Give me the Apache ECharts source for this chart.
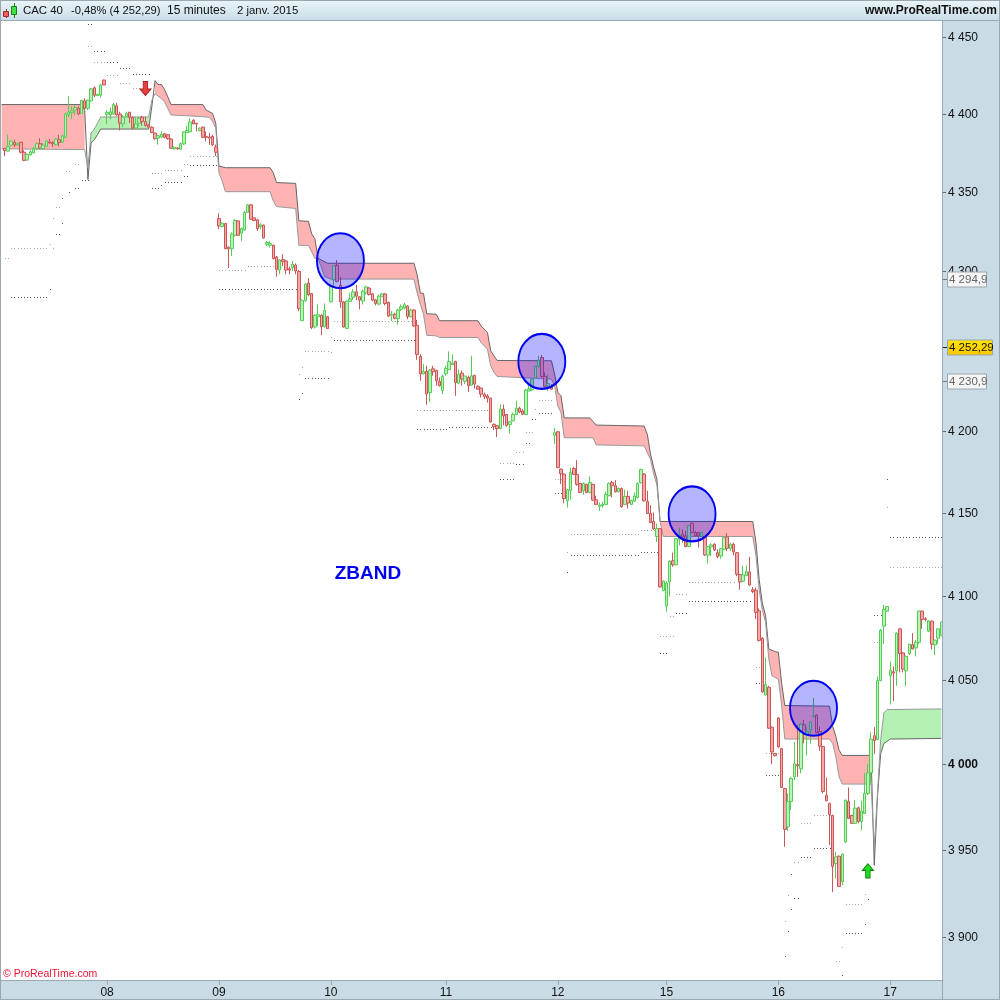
<!DOCTYPE html>
<html>
<head>
<meta charset="utf-8">
<style>html,body{margin:0;padding:0;background:#fff}#c{width:1000px;height:1000px}</style>
<script src="https://cdn.jsdelivr.net/npm/echarts@6/dist/echarts.min.js"></script>
</head>
<body>
<div id="c"></div>
<script>
// each candle: [open, close, low, high]
const session07 = [
[4377.8,4376.5,4372.9,4378.2],[4376.1,4379,4376.1,4386.7],[4379.9,4382.6,4379.3,4383.5],[4381.8,4380.1,4378.8,4383.5],[4380.1,4380.9,4379.3,4381.8],[4381.8,4375.4,4374.6,4381.8],[4375.4,4370.2,4369.7,4376.7],[4370.4,4374,4370.2,4374.6],[4373.7,4375.7,4373.3,4376.7],[4375,4377.8,4374.6,4378.8],
[4377.8,4380.9,4377.1,4381.8],[4380.9,4378,4377.6,4384.5],[4377.8,4379.9,4377.1,4381.4],[4379.3,4382.6,4378.8,4383.5],[4382,4381.4,4380.9,4383.9],[4381.8,4380.9,4378.8,4382.4],[4380.3,4383.9,4379.7,4384.5],[4383.5,4381.8,4379.3,4386.7],[4381.8,4386,4381.4,4386.7],[4385,4400,4384.5,4400.8],
[4399.6,4401.3,4397.9,4411.4],[4400.8,4402.1,4396.6,4405.1],[4402.5,4404.2,4399.4,4405.7],[4403.8,4400,4399.4,4405.1],[4400.4,4408.7,4400,4409.3],[4408.5,4403.6,4403.6,4410],[4403.6,4408.9,4402.5,4409.3],[4408.5,4416.3,4408,4416.9],[4416.9,4412.1,4411,4417.8],[4411.9,4412.7,4411.5,4413.1],
[4412.1,4418.8,4410.6,4419.5],[4422,4418.8,4418.6,4422.2]
];
const session08 = [
[4399.8,4401.1,4393.6,4402.5],[4399.4,4401.5,4396.6,4404.2],[4400,4406.1,4399.4,4407.2],[4405.3,4399.4,4398.9,4407.2],[4400,4394.1,4389.4,4401.5],[4393.6,4397.9,4391.5,4399.4],[4398.3,4400.4,4397.9,4401.5],[4401.1,4397.9,4394.1,4401.5],[4397.9,4390.9,4390.3,4398.3],[4390.9,4393.6,4390.3,4397.9],
[4394.1,4397.2,4392,4398.3],[4397.9,4395.1,4392.4,4398.9],[4395.1,4392.6,4392,4398.3],[4393,4391.5,4391.1,4393.6],[4391.5,4388.1,4387.7,4392],[4387.7,4384.1,4383.5,4388.1],[4384.5,4386,4380.3,4386.7],[4385.2,4387.1,4384.5,4388.8],[4387.3,4385,4384.3,4387.7],[4386.7,4384.1,4383.5,4386.9],
[4383.9,4378,4377.6,4384.3],[4377.6,4378.6,4377.1,4379.3],[4378.2,4377.6,4377.1,4378.4],[4377.3,4380.9,4377.1,4381.8],[4380.7,4388.4,4380.1,4388.8],[4388.1,4389.4,4387.7,4392.4],[4388.6,4394.9,4388.1,4397.2],[4396,4393.6,4393.6,4396.6],[4394.1,4393.6,4388.8,4394.1],[4389.4,4390.9,4388.8,4391.5],
[4391.5,4385,4384.5,4392],[4385.6,4385,4382.4,4388.8],[4385.2,4384.5,4380.3,4387.7],[4385.6,4380.3,4379.3,4386.7],[4378.8,4375.4,4372.9,4380.3]
];
const session09 = [
[4333.1,4328.4,4326.3,4336.5],[4328,4330.1,4327.6,4330.6],[4329.9,4314,4313.6,4330.4],[4314.9,4314,4301.8,4315.3],[4314,4323.2,4309.4,4324.2],[4322.5,4331.8,4321.7,4332.7],[4331.6,4322.5,4322.1,4332],[4323.8,4326.8,4318.9,4327.4],[4325.9,4336.9,4325.3,4338],[4336.9,4341.8,4336.9,4342.2],
[4341.8,4332.7,4332.3,4342.2],[4333.5,4331.8,4331.4,4333.9],[4332.3,4326.8,4325.3,4332.7],[4328,4329.1,4326.3,4330.1],[4328.9,4320.8,4320.4,4329.3],[4316.8,4317.9,4315.7,4318.9],[4316.2,4317.2,4314.7,4318.9],[4316.2,4307.7,4307.3,4316.6],[4308.8,4300.9,4296.3,4309.4],[4300.5,4306.9,4297.8,4307.3],
[4307.1,4305.8,4303,4310.5],[4306.2,4300.5,4297.8,4306.9],[4301.3,4300.5,4297.8,4302.6],[4302,4304.1,4299.9,4306.2],[4303.7,4299.9,4297.8,4304.7],[4299.6,4276.2,4274.7,4300.6],[4268.7,4281.4,4268.5,4282],[4281.2,4291.7,4280.7,4292.3],[4292.3,4285.1,4284.1,4295.4],[4285.7,4264.4,4263.4,4286.1],
[4264.8,4272.1,4263.8,4272.7],[4271.2,4272.5,4265.4,4278.9],[4272.1,4265,4259.8,4272.7],[4265,4275.2,4264.4,4279.5],[4271.2,4263.8,4263.6,4271.6]
];
const session10 = [
[4280.5,4290.3,4280.3,4291.3],[4294.4,4303.3,4289.2,4303.7],[4303.5,4293.4,4292.8,4306.8],[4290.9,4280.5,4276.8,4296.1],[4280.5,4264.8,4264.4,4281],[4263.8,4281,4263.6,4281.4],[4280.8,4282.4,4280.8,4286.1],[4283.4,4286.8,4281.6,4288.6],[4286.8,4284.1,4281.6,4291.3],[4283.7,4281.6,4275.8,4284.1],
[4281,4287.2,4278.9,4288.2],[4286.1,4289.9,4285.1,4290.7],[4289.2,4285.1,4284.5,4289.9],[4285.5,4281.6,4281,4286.1],[4281.8,4279.5,4278.3,4282.4],[4279.1,4284.1,4278.3,4285.1],[4283.7,4285.5,4283.7,4286.1],[4285.5,4279.5,4278.3,4286.1],[4280.1,4271.6,4271.2,4280.7],[4272.1,4272.7,4268.5,4274.7],
[4272.7,4270.2,4269.6,4273.7],[4270,4275.4,4266.3,4276.2],[4275.8,4277.4,4274.7,4278.9],[4276.6,4278.7,4275.8,4279.9],[4277.9,4271.2,4269.6,4278.3],[4271.2,4275.4,4270.8,4276.2],[4275.4,4265.4,4265,4275.8],[4265.8,4247.6,4244.3,4269.2],[4246.4,4235.6,4231.3,4247.8],[4235.6,4237.1,4235.2,4241.6],
[4237.1,4223.2,4216.4,4240.6],[4224,4237.9,4218.2,4238.5],[4238.7,4236.9,4234.4,4240.6],[4237.7,4231.3,4228.2,4238.1],[4230.9,4228.2,4227.8,4233.3],[4225.3,4234,4223,4235]
];
const session11 = [
[4235.6,4238.9,4234.4,4240.6],[4238.3,4243.3,4237.9,4249.5],[4241.4,4242.2,4241,4247.8],[4243.3,4230.2,4222,4243.7],[4229.8,4235.4,4229.2,4238.1],[4236,4232.3,4228.2,4237.7],[4230.9,4234.2,4229.2,4234.4],[4233.3,4228.2,4224.4,4234.4],[4228.6,4234.4,4228.2,4246.8],[4234.6,4229.2,4226.5,4235],
[4227.8,4226.1,4225.7,4228.6],[4226.7,4223,4220.9,4227.1],[4223,4221.5,4219.9,4224],[4221.8,4220.5,4217.8,4223],[4220.5,4205.8,4205.4,4220.9],[4204.4,4202.9,4200.8,4204.8],[4203.5,4201.7,4196.5,4203.9],[4201.7,4213.7,4201.3,4216.8],[4213.7,4209.5,4203.7,4216.6],[4210.4,4203.7,4202.9,4210.8],
[4204.2,4206,4198.8,4206.4],[4206.6,4210.4,4206.2,4211.6],[4210.4,4214.3,4210,4218.9],[4214.3,4212,4211.2,4215.3],[4212.6,4210.6,4210,4213.7],[4210.4,4225.5,4210,4226.1],[4224.9,4226.1,4224.9,4230.2],[4225.7,4232.3,4225.1,4232.7],[4232.9,4240.2,4232.7,4240.6],[4240.2,4244.1,4239.6,4246.8],
[4245.8,4234,4233.3,4247.2],[4234,4227.8,4227.1,4236.5],[4228.2,4229.6,4225.1,4235.4],[4227.8,4226.1,4225.7,4229.2]
];
const session12 = [
[4197.6,4199.2,4192.1,4202.2],[4199.8,4177.8,4177.4,4200.2],[4176.8,4174,4167.7,4177.2],[4173.8,4158.9,4156.1,4174.2],[4157.5,4164.2,4153.4,4164.6],[4163.8,4174.8,4158.1,4177.8],[4177.2,4173.6,4173.2,4178.2],[4173.6,4167.5,4166.7,4182.3],[4168.1,4162.6,4162.2,4168.3],[4163.6,4168.1,4161.2,4168.7],
[4167.5,4162.6,4162.2,4167.9],[4162.6,4168.7,4162.2,4172.4],[4167.5,4157.9,4157.5,4167.9],[4158.1,4155.3,4154.9,4160.6],[4154.1,4154.9,4151.4,4156.5],[4154.5,4155.3,4153.4,4156.9],[4155.3,4161.4,4154.9,4163],[4160.6,4168.1,4160.2,4168.7],[4168.7,4166.7,4159.5,4169.7],[4166.7,4163,4162.6,4170.1],
[4163,4165,4162.6,4165.6],[4165,4153.9,4153.2,4165.6],[4155.3,4160.2,4154.9,4164.2],[4160.2,4156.1,4152.8,4163.6],[4155.3,4157.7,4154.9,4158.1],[4157.3,4160.4,4156.9,4162.6],[4159.5,4168.1,4158.9,4168.7],[4168.5,4176.6,4168.1,4177.2],[4173.8,4157.5,4156.9,4174.4],[4157.1,4149.8,4149.4,4163.6],
[4149.8,4144.3,4143.9,4154.9],[4144.9,4140.4,4139.8,4150.4],[4135.8,4140.6,4132.5,4143.7],[4140.6,4105.3,4105.1,4140.8],[4103.2,4108.9,4102.8,4109.3]
];
const session15 = [
[4093.9,4107.7,4090.4,4108.7],[4108.3,4120.9,4099.6,4121.3],[4121.1,4118.7,4117.5,4126],[4118.7,4134.5,4118.3,4134.9],[4134.1,4136.6,4130.5,4141.2],[4137,4135.4,4132.1,4140.2],[4136.2,4129.7,4129.3,4139.2],[4129.7,4142.3,4129.3,4142.7],[4143.7,4138.2,4137.8,4144.3],[4138.2,4136.2,4135.8,4139.2],
[4138.2,4136.2,4129.1,4138.6],[4135.8,4138.2,4135.4,4138.6],[4135.8,4124.6,4124,4136.2],[4124.6,4129.7,4119.5,4130.1],[4129.5,4130.7,4124,4131.7],[4131.1,4127.6,4127,4131.7],[4126,4123.6,4122.7,4128],[4124,4128.4,4122.3,4128.8],[4128,4135.1,4127.6,4135.8],[4135.6,4128.6,4127,4137.8],
[4128.6,4131.1,4127,4132.1],[4131.1,4126.4,4124.4,4132.1],[4126,4113,4111.8,4126.4],[4112.8,4108.3,4103.6,4113.2],[4108.7,4112.6,4108.3,4118.3],[4112.2,4114.6,4111.8,4118.3],[4114.4,4106.5,4106.1,4123.4],[4103.6,4102.6,4101.6,4105.3],[4103.4,4090,4085.9,4104.9],[4091,4073.3,4072.7,4092.4],
[4074.6,4042.6,4042.2,4075.2],[4040.8,4047,4040.6,4063.2],[4045.4,4021.2,4020.8,4046.2],[4021.8,4007.2,4000,4022.2],[4006.4,4005,4004.6,4006.6]
];
const session16 = [
[4027.2,4010.2,4009.8,4027.6],[4009.2,3986.4,3986,4009.6],[3985.8,3962,3951.9,3986.2],[3963.5,3978.3,3961.2,3982.9],[3978.3,3991.7,3973.2,3992.6],[3992.6,4000.2,3990.7,4013.2],[3999.8,3999,3992.6,4023.2],[3997.3,4023.6,3994.6,4024.2],[4023.2,4018.2,4012.2,4026.2],[4017.2,4019.2,4005.2,4022.2],
[4020.2,4024.8,4012.2,4025.2],[4027.8,4028.6,4027.8,4039.2],[4029,4018.6,4018.2,4029.4],[4019.2,4010.6,4007.8,4022.2],[4010.4,3984.1,3982.9,4010.8],[3981.8,3978.7,3978.3,3992.2],[3977.1,3970.7,3952.9,3977.5],[3970.1,3940.6,3925.7,3970.5],[3942.2,3946.1,3933.5,3949],[3946.5,3929,3928.6,3946.8],
[3931.7,3947.6,3929.6,3948],[3954.8,3979,3954.2,3979.4],[3978.3,3968.4,3968,3986.4],[3970.1,3965.5,3965.1,3970.5],[3965.5,3974.4,3965.1,3979],[3974.6,3966.6,3965.5,3975.2],[3966.6,3972.6,3961.6,3978.7],[3971.3,3982.9,3970.9,3995],[3982.9,3995,3982,4000.4],[3995,4014.8,3988.7,4018.8],
[4016.8,4014,4006.2,4021.8],[4014.6,4049.4,4014,4051.8],[4049.4,4079.4,4049,4080.2],[4081.8,4091.8,4071.2,4094.6],[4090.8,4093.6,4090.6,4093.8]
];
const session17 = [
[4052.2,4055.4,4035.2,4060.8],[4054.6,4053.8,4037.2,4057.8],[4055.2,4077.6,4046.2,4078.2],[4080.2,4065.4,4054.2,4080.6],[4065.8,4056.2,4054.2,4066.2],[4055.2,4063.8,4046.2,4064.2],[4065.4,4071,4064.6,4071.2],[4070.8,4068.2,4067.8,4077.6],[4068.8,4072.2,4063.8,4073.6],[4072.2,4090.8,4071.2,4091.2],
[4090.8,4085.8,4080.2,4091.2],[4086.2,4085.8,4084.6,4087.2],[4078.8,4085,4078.2,4085.2],[4084.8,4071,4067.8,4085.2],[4070.6,4073.4,4064.6,4073.8],[4074.6,4080.2,4071.2,4080.6],[4076.2,4084.2,4075.8,4084.6]
];

// band edges: [bar, price]
const spanA = [[0,4406.1],[25,4406.1],[26,4402.5],[27,4358],[28,4381.4],[29,4383.5],[30,4386.7],[31,4390.3],[46,4390.3],[47,4404.7],[48,4421.6],[49,4419],[50,4419],[51,4415.7],[52,4411],[53,4406.1],[63,4406.1],[64,4402.5],[66,4400.4],[67,4394],[68,4366.6],[70,4365.5],[84,4365.5],[85,4362.3],[86,4356],[92,4355.5],[93,4331.7],[96,4331.3],[97,4323.4],[98,4320.3],[99,4307.9],[102,4304.8],[129,4304.8],[130,4297.5],[131,4286.1],[132,4285.7],[133,4273.1],[136,4272.7],[137,4268.7],[149,4268.7],[150,4265.4],[152,4261.3],[153,4249.9],[155,4243.9],[172,4243.7],[173,4235.4],[174,4224],[175,4222],[176,4208.3],[184,4208.3],[186,4203.9],[201,4203.3],[202,4198.2],[203,4186],[204,4177.8],[205,4170.7],[206,4144.9],[235,4144.9],[236,4132.1],[237,4109.7],[238,4095.2],[239,4088.2],[240,4068.2],[242,4066.6],[243,4066.2],[244,4048.2],[245,4034.6],[259,4034.2],[260,4022.2],[261,4016.2],[262,4008.2],[263,4005.2],[272,4005.2],[273,3941.2],[274,3981],[275,4006.2],[276,4012.2],[278,4014.8],[294,4015.2]];
const spanB = [[0,4377.6],[26,4377.1],[27,4365.5],[28,4387.7],[29,4390.3],[30,4394.1],[31,4398.1],[46,4398.1],[47,4408.9],[48,4413.1],[50,4409.9],[51,4407.8],[52,4403.6],[53,4399.4],[63,4398.3],[65,4397.9],[66,4395.1],[67,4390.9],[68,4362.3],[69,4357],[70,4350.2],[84,4350.2],[85,4344.3],[86,4340.7],[92,4339.5],[93,4316.1],[96,4316.1],[97,4312],[98,4307.9],[99,4307.5],[100,4302.7],[101,4296.5],[103,4294.8],[129,4294.8],[130,4286.1],[131,4278.9],[132,4272.7],[133,4259.6],[136,4259.2],[137,4258.2],[149,4258.2],[150,4255.1],[152,4250.9],[153,4240.6],[154,4236.5],[155,4234],[172,4232.3],[173,4228.2],[174,4215.7],[175,4211.6],[176,4196.1],[185,4196.1],[186,4191.7],[201,4191.1],[203,4182.9],[204,4173.8],[205,4167.1],[206,4144.9],[207,4135.8],[235,4135.8],[236,4124],[237,4103.6],[238,4091.2],[239,4084.2],[240,4062.2],[241,4052.2],[243,4050.2],[244,4035.2],[245,4014.8],[259,4014.8],[260,4012.2],[261,4004.2],[262,3992.6],[263,3988.4],[272,3988.4],[273,3951.9],[274,3982.9],[275,4014.4],[276,4030.2],[277,4032.2],[294,4032.6]];
// [first bar, last bar, 0 pink / 1 green]
const bandRegions = [[0,26,0],[27,47,1],[48,272,0],[273,294,1]];
const bandColors = ['#ffb3b3','#b4f0b4'];

// dotted levels: [first bar, last bar, price]
const darkLevels = [[27,28,4458.4],[29,32,4441.1],[33,36,4433.7],[37,40,4429.6],[41,46,4425.8],[3,14,4283.8],[15,15,4288.6],[25,27,4357.9],[24,24,4367.6],[19,19,4346.4],[21,21,4350],[23,24,4352.8],[17,18,4323.2],[19,19,4330.1],[47,49,4352.8],[50,50,4354.3],[51,56,4356.6],[57,58,4360.2],[59,67,4367],[68,92,4288.6],[95,102,4233.3],[93,93,4219.9],[94,94,4223.6],[104,129,4256.9],[130,139,4201.3],[140,153,4202.9],[168,172,4211.6],[164,165,4192.6],[166,167,4207.5],[161,163,4179.9],[156,160,4170.8],[173,175,4162],[178,199,4124.8],[177,177,4114.4],[200,205,4126.6],[215,234,4096.7],[211,214,4089.4],[206,208,4065.6],[273,275,4088.6],[236,238,4048.2],[239,243,3993.6],[254,259,3951.4],[250,253,3946.1],[247,247,3936.4],[277,277,4170.7],[278,294,4135.4],[248,249,3922.1],[247,247,3916.3],[246,246,3903.7],[245,245,3889.2],[264,269,3902.5],[270,270,3907.7],[271,271,3921.5],[263,263,3878.3]];
const lightLevels = [[27,28,4444.2],[29,32,4433.7],[33,36,4425.4],[37,40,4420.1],[41,43,4416.9],[3,14,4314.3],[15,15,4317.2],[16,16,4314.3],[1,2,4308.3],[16,16,4333.7],[17,18,4340.7],[20,21,4363.4],[23,24,4367.6],[47,50,4362.3],[51,56,4363.8],[57,58,4368.2],[59,67,4373.3],[68,76,4300.7],[77,86,4303],[95,102,4249.5],[103,103,4249],[103,103,4258.8],[104,129,4268.7],[93,93,4235.4],[94,94,4239.6],[130,152,4213.5],[168,172,4219.1],[167,167,4214.1],[164,166,4199.8],[161,163,4187.4],[156,160,4180.6],[173,175,4170.7],[178,199,4137.6],[177,177,4126.6],[200,205,4140],[215,229,4108.3],[211,214,4101],[209,210,4087.8],[206,210,4075.8],[236,238,4057.3],[273,274,4072.2],[239,243,4006.8],[254,259,3970.3],[250,253,3966],[248,249,3943.2],[277,277,4153.6],[278,294,4117.2],[246,246,3923.8],[245,245,3909.4],[264,269,3918.7],[270,270,3924.4],[263,263,3894.4],[261,262,3886.3]];

// annotations
const circlePoints = [[106,4306.4],[169,4243.3],[216,4149.5],[254,4033]];
const sellSignal = [[45,4416.5]];
const buySignal = [[271,3938]];

// axes
const dayTicks = [33,68,103,139,174,208,243,278];
const dayLabels = ['08','09','10','11','12','15','16','17'];
const priceTicks = [4450,4400,4350,4300,4200,4150,4100,4050,4000,3950,3900];
const priceLabels = ['4 450','4 400','4 350','4 300','4 200','4 150','4 100','4 050','4 000','3 950','3 900'];
const tagValues = [4294.9,4252.29,4230.9];
const tagLabels = ['4 294,9','4 252,29','4 230,9'];

const candles = ['-'].concat(session07,session08,session09,session10,session11,session12,session15,session16,session17);
const categories = candles.map((_, i) => { const k = dayTicks.indexOf(i); return k >= 0 ? dayLabels[k] : ''; });
const FONT = '"Liberation Sans", Arial, sans-serif';

function inRange(pts, a, b) { return pts.filter(p => p[0] >= a && p[0] <= b); }
function renderBand(params, api) {
  const r = bandRegions[params.dataIndex];
  const up = inRange(spanA, r[0], r[1]).map(p => api.coord(p));
  const low = inRange(spanB, r[0], r[1]).map(p => api.coord(p)).reverse();
  return { type: 'polygon', shape: { points: up.concat(low) }, style: { fill: bandColors[r[2]] } };
}
function renderLevels(color) {
  return function (params, api) {
    const children = [];
    for (let i = api.value(0); i <= api.value(1); i++) {
      const c = api.coord([i, api.value(2)]);
      children.push({ type: 'rect', shape: { x: Math.round(c[0]), y: Math.round(c[1]), width: 1, height: 1 }, style: { fill: color } });
    }
    return { type: 'group', children };
  };
}
function renderPriceTick(params, api) {
  const v = priceTicks[params.dataIndex];
  const y = Math.round(api.coord([0, v])[1]) + 0.5;
  const major = v === 4000;
  return { type: 'group', children: [
    { type: 'line', shape: { x1: 942, y1: y, x2: 946, y2: y }, style: { stroke: '#5a6a74', lineWidth: 1 } },
    { type: 'text', style: { x: 948, y: y, text: priceLabels[params.dataIndex], fill: '#111',
      font: (major ? 'bold ' : '') + '12px ' + FONT, verticalAlign: 'middle', align: 'left' } }
  ] };
}
function renderTag(params, api) {
  const i = params.dataIndex;
  const y = Math.round(api.coord([0, tagValues[i]])[1]) + 0.5;
  const cur = i === 1;
  const w = cur ? 45 : 39;
  const fill = cur ? new echarts.graphic.LinearGradient(0, 0, 0, 1, [{ offset: 0, color: '#ffe600' }, { offset: 1, color: '#f8c400' }]) : '#f5f5f5';
  return { type: 'group', children: [
    { type: 'line', shape: { x1: 942, y1: y, x2: 948, y2: y }, style: { stroke: cur ? '#222' : '#777', lineWidth: 1 } },
    { type: 'rect', shape: { x: 947.5, y: y - 7.5, width: w, height: 15 }, style: { fill, stroke: '#9aa6ae', lineWidth: 1 } },
    { type: 'text', style: { x: 949, y: y, text: tagLabels[i], fill: cur ? '#111' : '#666', font: '11.5px ' + FONT, verticalAlign: 'middle', align: 'left' } }
  ] };
}

const panel = '#9aa8b2';
const chart = echarts.init(document.getElementById('c'), null, { renderer: 'canvas', width: 1000, height: 1000 });
chart.setOption({
  animation: false,
  backgroundColor: '#c9dbe5',
  grid: { left: -0.5, right: 57, top: 21, bottom: 20, show: true, backgroundColor: '#fff', borderWidth: 0 },
  xAxis: {
    type: 'category', data: categories, boundaryGap: true,
    axisLine: { show: true, onZero: false, lineStyle: { color: panel, width: 1 } },
    axisTick: { show: true, alignWithLabel: true, length: 5, interval: (i, v) => v !== '', lineStyle: { color: panel } },
    axisLabel: { show: true, interval: (i, v) => v !== '', margin: 7, color: '#111', fontFamily: '"Liberation Sans", Arial', fontSize: 12 },
    splitLine: { show: false }
  },
  yAxis: {
    type: 'log', logBase: 10, min: 3875.5, max: 4460.4, position: 'right',
    axisLine: { show: false }, axisTick: { show: false }, axisLabel: { show: false },
    splitLine: { show: false }, minorTick: { show: false }, minorSplitLine: { show: false }
  },
  series: [
    { type: 'custom', name: 'band', z: 1, silent: true, encode: { x: 0, y: 1 },
      data: bandRegions.map(r => [r[0], 4200]), renderItem: renderBand },
    { type: 'line', name: 'spanA', z: 2, silent: true, showSymbol: false, data: spanA,
      lineStyle: { color: '#666', width: 1 } },
    { type: 'line', name: 'spanB', z: 2, silent: true, showSymbol: false, data: spanB,
      lineStyle: { color: '#999', width: 1 } },
    { type: 'custom', name: 'darkDots', z: 2, silent: true, encode: { x: 0, y: 2 },
      data: darkLevels, renderItem: renderLevels('#555') },
    { type: 'custom', name: 'lightDots', z: 2, silent: true, encode: { x: 0, y: 2 },
      data: lightLevels, renderItem: renderLevels('#a8a8a8') },
    { type: 'candlestick', name: 'CAC 40', z: 3, silent: true, data: candles, barWidth: 3,
      itemStyle: { color: '#b8f4b8', color0: '#f4a8a8', borderColor: '#55cc55', borderColor0: '#cc5555', borderWidth: 1 } },
    { type: 'scatter', name: 'circles', z: 4, silent: true, data: circlePoints, symbol: 'circle', symbolSize: [47, 55],
      itemStyle: { color: 'rgba(0,0,255,0.29)', borderColor: '#0000f0', borderWidth: 2, opacity: 1 } },
    { type: 'scatter', name: 'sell', z: 5, silent: true, data: sellSignal, symbolSize: [11, 14],
      symbol: 'path://M3,0 L7,0 L7,7 L10,7 L5,13 L0,7 L3,7 Z',
      itemStyle: { color: '#e84040', borderColor: '#a82020', borderWidth: 1, opacity: 1 } },
    { type: 'scatter', name: 'buy', z: 5, silent: true, data: buySignal, symbolSize: [11, 14],
      symbol: 'path://M5,0 L10,6 L7,6 L7,13 L3,13 L3,6 L0,6 Z',
      itemStyle: { color: '#22dd22', borderColor: '#0a8a0a', borderWidth: 1, opacity: 1 } },
    { type: 'custom', name: 'priceTicks', z: 6, silent: true, clip: false, encode: { x: 0, y: 1 },
      data: priceTicks.map(v => [0, v]), renderItem: renderPriceTick },
    { type: 'custom', name: 'tags', z: 7, silent: true, clip: false, encode: { x: 0, y: 1 },
      data: tagValues.map(v => [0, v]), renderItem: renderTag }
  ],
  graphic: { elements: [
    { type: 'rect', z: 100, shape: { x: 0, y: 0, width: 1000, height: 20.5 }, style: {
      fill: new echarts.graphic.LinearGradient(0, 0, 0, 1, [{ offset: 0, color: '#e9f5f9' }, { offset: 1, color: '#c9dde7' }]) } },
    { type: 'rect', z: 101, shape: { x: 0, y: 20, width: 1000, height: 1 }, style: { fill: panel } },
    { type: 'rect', z: 101, shape: { x: 0, y: 0, width: 1, height: 1000 }, style: { fill: panel } },
    { type: 'rect', z: 101, shape: { x: 942, y: 21, width: 1, height: 979 }, style: { fill: panel } },
    { type: 'rect', z: 101, shape: { x: 999, y: 0, width: 1, height: 1000 }, style: { fill: panel } },
    { type: 'rect', z: 101, shape: { x: 0, y: 999, width: 1000, height: 1 }, style: { fill: panel } },
    { type: 'rect', z: 101, shape: { x: 0, y: 0, width: 1000, height: 1 }, style: { fill: panel } },
    { type: 'rect', z: 102, shape: { x: 6, y: 9, width: 1, height: 9 }, style: { fill: '#a02828' } },
    { type: 'rect', z: 102, shape: { x: 3.5, y: 11.5, width: 5, height: 5 }, style: { fill: '#f06060', stroke: '#a02828', lineWidth: 1 } },
    { type: 'rect', z: 102, shape: { x: 14, y: 3, width: 1, height: 15 }, style: { fill: '#188018' } },
    { type: 'rect', z: 102, shape: { x: 11.5, y: 6.5, width: 5, height: 8 }, style: { fill: '#40e040', stroke: '#188018', lineWidth: 1 } },
    { type: 'text', z: 102, x: 23, y: 11, style: { text: 'CAC 40', fill: '#111', font: '11.4px ' + FONT, verticalAlign: 'middle' } },
    { type: 'text', z: 102, x: 71, y: 11, style: { text: '-0,48% (4 252,29)', fill: '#111', font: '11.2px ' + FONT, verticalAlign: 'middle' } },
    { type: 'text', z: 102, x: 167, y: 11, style: { text: '15 minutes', fill: '#111', font: '12px ' + FONT, verticalAlign: 'middle' } },
    { type: 'text', z: 102, x: 237, y: 11, style: { text: '2 janv. 2015', fill: '#111', font: '11.4px ' + FONT, verticalAlign: 'middle' } },
    { type: 'text', z: 102, x: 997, y: 11, style: { text: 'www.ProRealTime.com', fill: '#111', font: 'bold 12px ' + FONT, align: 'right', verticalAlign: 'middle' } },
    { type: 'text', z: 102, x: 3, y: 974, style: { text: '\u00a9 ProRealTime.com', fill: '#ee1133', font: '10.5px ' + FONT, verticalAlign: 'middle' } },
    { type: 'text', z: 102, x: 368, y: 574, style: { text: 'ZBAND', fill: '#0000ee', font: 'bold 19px ' + FONT, align: 'center', verticalAlign: 'middle' } }
  ] }
});
</script>
</body>
</html>
